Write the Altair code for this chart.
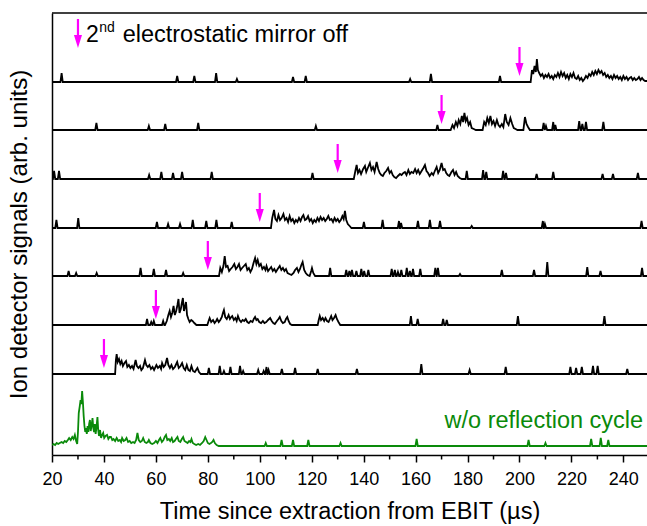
import altair as alt
import pandas as pd

# ---------------- data ----------------
trace_names = ["t1", "t2", "t3", "t4", "t5", "t6", "t7", "g"]
trace_offsets = [373, 325, 276, 227, 179, 130, 81, 9]
trace_colors = ["black"] * 7 + ["#0a8a0a"]

t1_spikes = [(23.7, 9), (68.2, 6), (74.8, 6), (83.2, 9), (91.2, 3), (112.8, 5), (117.7, 6),
             (157.9, 3), (165.9, 8), (192.5, 6)]
t1_burst = [(204.3, 0), (204.8, 12), (205.3, 8), (205.8, 16), (206.3, 10), (206.7, 23), (207.1, 12),
            (207.6, 9), (208.2, 6), (208.8, 8), (209.4, 4), (210.0, 7), (210.6, 5), (211.2, 8),
            (211.8, 4), (212.4, 6), (213.0, 3), (213.6, 7), (214.2, 5), (214.8, 9), (215.4, 5),
            (216.0, 10), (216.6, 6), (217.2, 9), (217.8, 4), (218.4, 7), (219.0, 3), (219.6, 8),
            (220.2, 5), (220.8, 9), (221.4, 4), (222.0, 3), (222.6, 6), (223.2, 2), (223.8, 4),
            (224.4, 1), (225.0, 3), (225.6, 6), (226.2, 4), (226.8, 8), (227.4, 6), (228.0, 10),
            (228.6, 7), (229.2, 11), (229.8, 8), (230.4, 12), (231.0, 9), (231.6, 11), (232.2, 7),
            (232.8, 9), (233.4, 5), (234.0, 7), (234.6, 4), (235.2, 6), (235.8, 3), (236.4, 7),
            (237.0, 4), (237.6, 6), (238.2, 3), (238.8, 5), (239.4, 2), (240.0, 6), (240.6, 3),
            (241.2, 5), (241.8, 2), (242.4, 4), (243.0, 5), (243.6, 2), (244.2, 4), (244.8, 2),
            (245.4, 3), (246.0, 5), (246.6, 2), (247.2, 4), (247.8, 2), (248.4, 1), (249.1, 1)]

t2_spikes = [(37.1, 7), (57.3, 4), (63.6, 6), (76.3, 7), (121.6, 4), (168.4, 5),
             (209.3, 7), (210.2, 4), (213.0, 8), (213.8, 5), (223.0, 9), (224.2, 6),
             (225.6, 8), (232.3, 8)]
t2_burst = [(173.5, 0), (174.2, 5), (174.8, 2), (175.5, 8), (176.1, 4), (176.6, 10), (177.2, 6),
            (177.8, 14), (178.3, 8), (178.8, 17), (179.3, 9), (179.8, 12), (180.4, 5), (181.0, 8),
            (181.6, 2), (182.4, 1), (183.2, 0),
            (185.8, 0), (186.4, 8), (187.0, 5), (187.6, 12), (188.2, 7), (188.8, 14), (189.4, 6),
            (190.0, 9), (190.6, 4), (191.3, 10), (191.9, 5), (192.5, 3), (193.2, 6), (193.8, 3),
            (194.5, 16), (195.1, 8), (195.8, 5), (196.5, 12), (197.2, 6), (197.8, 2), (198.5, 1),
            (199.2, 0), (201.5, 0), (202.1, 13), (202.7, 6), (203.3, 3), (204.0, 0)]

t3_spikes = [(20.8, 8), (22.7, 8), (57.4, 4), (62.1, 7), (66.6, 6), (70.1, 7), (81.5, 7),
             (120.3, 6), (179.7, 8), (186.0, 9), (187.2, 7), (193.7, 8), (194.8, 6),
             (206.6, 5), (213.0, 7), (232.0, 5), (236.0, 5), (245.6, 6)]
t3_burst = [(136.2, 0), (136.8, 8), (137.3, 14), (137.8, 6), (138.4, 9), (139.0, 5), (139.8, 10),
            (140.5, 13), (141.0, 7), (141.6, 11), (142.4, 16), (143.0, 9), (143.6, 12), (144.2, 7),
            (145.0, 17), (145.6, 10), (146.2, 6), (146.8, 4), (147.4, 3), (148.0, 6), (148.7, 8),
            (149.4, 11), (150.0, 6), (150.6, 8), (151.2, 4), (151.8, 2), (152.5, 1), (153.2, 3),
            (154.0, 5), (154.6, 4), (155.3, 6), (155.9, 7), (156.5, 4), (157.2, 9), (157.8, 5),
            (158.4, 7), (159.1, 6), (159.8, 10), (160.4, 6), (161.0, 9), (161.6, 5), (162.3, 8),
            (163.0, 11), (163.6, 14), (164.2, 8), (164.8, 6), (165.4, 3), (166.2, 6), (166.8, 4),
            (167.4, 8), (168.1, 12), (168.7, 6), (169.3, 9), (170.0, 16), (170.6, 9), (171.2, 10),
            (171.8, 6), (172.4, 4), (173.0, 3), (173.8, 7), (174.4, 9), (175.0, 4), (175.6, 7),
            (176.2, 3), (177.0, 1), (177.8, 0)]

t4_spikes = [(21.7, 8), (30.1, 10), (60.4, 6), (64.7, 4), (69.3, 4), (74.2, 8), (79.4, 7),
             (83.3, 8), (89.2, 6), (140.1, 6), (147.3, 8), (153.6, 7), (154.4, 5), (160.9, 7),
             (165.5, 8), (169.4, 7), (181.6, 2), (209.0, 7), (209.8, 4), (247.0, 7)]
t4_burst = [(104.3, 0), (104.8, 10), (105.5, 18), (106.0, 9), (106.6, 7), (107.2, 13), (107.8, 8),
            (108.4, 10), (109.1, 14), (109.7, 8), (110.3, 10), (110.9, 6), (111.5, 12), (112.1, 7),
            (112.7, 9), (113.3, 5), (113.9, 8), (114.5, 6), (115.1, 10), (115.7, 7), (116.3, 11),
            (116.8, 13), (117.4, 8), (118.0, 9), (118.6, 12), (119.2, 7), (119.8, 9), (120.4, 5),
            (121.0, 8), (121.6, 6), (122.2, 10), (122.8, 7), (123.4, 11), (124.0, 8), (124.6, 10),
            (125.2, 7), (125.8, 9), (126.4, 12), (127.0, 8), (127.6, 9), (128.2, 6), (128.8, 10),
            (129.4, 7), (130.0, 9), (130.6, 6), (131.2, 8), (131.8, 12), (132.3, 9), (132.8, 17),
            (133.3, 8), (133.9, 4), (134.6, 2), (135.3, 0)]

t5_spikes = [(26.4, 5), (29.3, 3), (37.2, 3), (54.1, 8), (59.2, 7), (63.9, 6), (70.5, 3),
             (127.1, 8), (133.3, 6), (134.5, 5), (135.5, 6), (137.2, 5), (139.1, 7), (140.2, 5),
             (141.8, 6), (150.8, 7), (152.0, 6), (153.2, 4), (154.5, 6), (156.6, 8), (157.8, 5),
             (159.0, 7), (161.8, 7), (167.6, 8), (168.6, 8), (177.1, 2), (193.2, 6), (205.6, 6),
             (210.7, 14), (226.1, 9), (231.2, 5), (247.2, 8)]
t5_burst = [(84.3, 0), (84.8, 8), (85.4, 4), (86.0, 10), (86.5, 20), (87.0, 9), (87.6, 10),
            (88.2, 5), (88.8, 7), (89.5, 9), (90.2, 12), (90.8, 7), (91.4, 9), (92.0, 12), (92.6, 6),
            (93.2, 8), (93.9, 10), (94.6, 12), (95.2, 6), (95.8, 8), (96.4, 4), (97.0, 7), (97.6, 13),
            (98.2, 18), (98.7, 12), (99.2, 16), (99.8, 10), (100.4, 12), (101.0, 7), (101.6, 9),
            (102.2, 6), (102.6, 10), (103.2, 5), (103.8, 7), (104.4, 9), (105.0, 5), (105.6, 7),
            (106.2, 4), (106.9, 7), (107.7, 10), (108.3, 6), (108.9, 8), (109.5, 5), (110.1, 7),
            (110.7, 3), (111.4, 2), (112.2, 1), (113.0, 3), (113.6, 6), (114.3, 8), (114.9, 4),
            (115.5, 7), (116.0, 11), (116.5, 14), (117.1, 6), (117.7, 3), (118.4, 1), (119.2, 0),
            (119.8, 5), (120.1, 8), (120.6, 3), (121.3, 0)]

t6_spikes = [(56.6, 6), (58.2, 3), (59.2, 4), (62.8, 4), (158.2, 9), (160.8, 6), (170.6, 6),
             (172.0, 5), (199.4, 9), (232.7, 9)]
t6_burst = [(63.5, 0), (64.2, 4), (64.8, 10), (65.3, 14), (65.8, 8), (66.3, 12), (66.8, 19),
            (67.3, 10), (67.8, 14), (68.3, 20), (68.7, 26), (69.1, 12), (69.6, 16), (70.0, 22),
            (70.4, 27), (70.8, 14), (71.2, 18), (71.6, 23), (72.0, 10), (72.5, 6), (73.0, 3),
            (73.6, 5), (74.1, 4), (74.8, 2), (75.6, 0),
            (79.8, 0), (80.3, 4), (80.7, 7), (81.3, 3), (82.0, 5), (82.6, 2), (83.2, 4), (83.6, 6),
            (84.2, 3), (84.8, 5), (85.4, 8), (85.8, 12), (86.2, 15), (86.7, 8), (87.3, 6),
            (88.0, 10), (88.5, 6), (89.0, 8), (89.4, 9), (90.0, 5), (90.6, 7), (91.1, 4), (91.6, 9),
            (92.2, 5), (92.8, 3), (93.4, 5), (94.0, 4), (94.6, 6), (95.2, 3), (95.8, 2), (96.5, 4),
            (97.2, 3), (97.7, 6), (98.2, 8), (98.7, 5), (99.2, 6), (99.8, 3), (100.5, 2),
            (101.2, 4), (101.8, 2), (102.5, 3), (103.2, 5), (104.0, 7), (104.6, 4), (105.2, 2),
            (105.8, 1), (106.6, 4), (107.2, 6), (107.7, 8), (108.3, 4), (108.9, 2), (109.6, 3),
            (110.1, 6), (110.6, 8), (111.1, 4), (111.7, 1), (112.4, 0),
            (122.3, 0), (122.7, 5), (123.1, 9), (123.6, 5), (124.2, 7), (124.8, 4), (125.3, 7),
            (125.9, 4), (126.5, 3), (127.0, 6), (127.5, 9), (128.0, 5), (128.6, 7), (129.2, 10),
            (129.7, 6), (130.3, 3), (131.0, 0)]

t7_spikes = [(80.4, 6), (84.6, 8), (86.2, 3), (88.7, 7), (92.4, 8), (93.6, 3), (99.4, 4),
             (101.5, 3), (102.6, 7), (103.4, 4), (108.5, 5), (113.6, 6), (122.3, 5), (137.4, 5),
             (162.2, 10), (180.8, 4), (194.7, 7), (219.6, 7), (221.8, 6), (224.0, 7),
             (228.3, 8), (230.1, 8), (241.5, 5)]
t7_burst = [(44.3, 0), (44.6, 14), (44.9, 20), (45.3, 12), (45.8, 15), (46.3, 10), (46.8, 13),
            (47.3, 8), (47.9, 11), (48.5, 13), (49.0, 7), (49.6, 9), (50.2, 6), (50.8, 8),
            (51.4, 5), (52.2, 14), (52.7, 8), (53.3, 6), (53.9, 8), (54.4, 4), (55.0, 6),
            (55.8, 14), (56.3, 9), (56.9, 7), (57.5, 9), (58.1, 5), (58.7, 7), (59.3, 4),
            (60.2, 9), (60.8, 6), (61.5, 8), (62.0, 5), (62.4, 11), (63.0, 7), (63.6, 9),
            (64.3, 16), (64.8, 9), (65.4, 6), (66.0, 9), (66.6, 5), (67.3, 7), (68.2, 12),
            (68.8, 6), (69.5, 8), (70.1, 11), (70.7, 6), (71.3, 4), (71.9, 9), (72.5, 4),
            (73.1, 3), (73.7, 8), (74.3, 3), (75.0, 2), (76.0, 6), (76.6, 2), (77.3, 0)]

g_spikes = [(102.3, 3), (108.4, 6), (112.8, 6), (118.7, 6), (131.1, 3), (160.4, 7), (203.5, 6),
            (210.0, 3), (227.6, 7), (231.3, 8), (234.2, 6)]
g_burst = [(20.0, 1), (20.6, 2), (21.2, 1), (21.8, 3), (22.4, 2), (23.0, 3), (23.7, 4), (24.3, 3),
           (24.9, 5), (25.5, 4), (26.1, 6), (26.6, 8), (27.2, 6), (27.8, 9), (28.3, 7), (28.8, 11),
           (29.3, 5), (29.7, 2), (30.0, 14), (30.3, 33), (30.7, 40), (31.0, 46), (31.3, 42),
           (31.6, 55), (31.9, 44), (32.2, 30), (32.5, 20), (32.8, 14), (33.1, 18), (33.4, 12),
           (33.7, 20), (34.0, 14), (34.3, 22), (34.6, 26), (34.9, 15), (35.2, 20), (35.6, 28),
           (35.9, 18), (36.2, 14), (36.5, 22), (36.8, 12), (37.1, 18), (37.5, 29), (37.8, 16),
           (38.1, 10), (38.5, 16), (38.9, 8), (39.3, 11), (39.7, 13), (40.1, 8), (40.6, 10),
           (41.2, 11), (41.7, 7), (42.2, 9), (42.7, 9), (43.2, 6), (43.7, 7), (44.3, 5), (44.9, 8),
           (45.5, 5), (46.1, 6), (46.6, 4), (47.0, 8), (47.6, 5), (48.2, 6), (48.7, 8), (49.3, 4),
           (49.9, 5), (50.5, 3), (51.2, 4), (51.8, 3), (52.4, 6), (52.9, 13), (53.4, 6), (54.0, 4),
           (54.6, 5), (55.1, 8), (55.7, 4), (56.3, 3), (56.9, 4), (57.3, 6), (57.9, 3), (58.6, 2),
           (59.3, 3), (60.0, 5), (60.6, 3), (61.2, 6), (61.7, 8), (62.3, 4), (62.9, 6), (63.4, 9),
           (63.9, 11), (64.4, 6), (65.0, 7), (65.5, 5), (66.1, 8), (66.6, 4), (67.2, 5), (67.7, 7),
           (68.3, 9), (68.8, 5), (69.4, 4), (70.0, 7), (70.5, 9), (71.0, 5), (71.6, 4), (72.2, 3),
           (72.8, 5), (73.3, 4), (73.7, 7), (74.2, 3), (74.8, 2), (75.5, 1), (76.3, 2), (77.0, 1),
           (77.8, 3), (78.4, 5), (79.0, 9), (79.5, 6), (80.0, 3), (80.6, 2), (81.2, 3), (81.7, 4),
           (82.2, 6), (82.7, 3), (83.4, 1), (84.2, 0)]

# mirror-off arrows: first one belongs to the in-plot legend
arrow_x = [30, 200, 170, 130, 100, 80, 60, 40]
arrow_tip = [407, 379, 331, 282, 233, 185, 136, 87]

tick_values = [20, 40, 60, 80, 100, 120, 140, 160, 180, 200, 220, 240]
minor_ticks = [30, 50, 70, 90, 110, 130, 150, 170, 190, 210, 230]

X_MIN, X_MAX = 20, 249.1
FONT = "Liberation Sans"

# ---------------- build tables ----------------
all_spikes = [t1_spikes, t2_spikes, t3_spikes, t4_spikes, t5_spikes, t6_spikes, t7_spikes, g_spikes]
all_bursts = [t1_burst, t2_burst, t3_burst, t4_burst, t5_burst, t6_burst, t7_burst, g_burst]

rows = []
for name, off, spikes, burst in zip(trace_names, trace_offsets, all_spikes, all_bursts):
    pts = list(burst)
    for x, h in spikes:
        pts += [(x - 0.45, 0), (x, h), (x + 0.45, 0)]
    xs = [p[0] for p in pts]
    if min(xs) > X_MIN:
        pts.append((X_MIN, 0))
    if max(xs) < X_MAX:
        pts.append((X_MAX, 0))
    pts.sort()
    for i, (x, h) in enumerate(pts):
        rows.append({"trace": name, "t": x, "y": off + h, "o": i})
df = pd.DataFrame(rows)

arr = pd.DataFrame({"x": arrow_x, "tip": arrow_tip})
arr["top"] = arr["tip"] + 29
arr["shaft_end"] = arr["tip"] + 10
arr["head"] = arr["tip"] + 6.5

xscale = alt.Scale(domain=[X_MIN, X_MAX], nice=False, zero=False)
yscale = alt.Scale(domain=[0, 442], nice=False, zero=False)

lines = alt.Chart(df).mark_line(strokeWidth=1.8, clip=True).encode(
    x=alt.X("t:Q", scale=xscale,
            axis=alt.Axis(values=tick_values, title="Time since extraction from EBIT (µs)",
                          grid=False, tickSize=7, tickWidth=1.5, tickColor="black",
                          domainColor="black", domainWidth=1.5,
                          labelFont=FONT, labelFontSize=18, labelColor="black", labelPadding=8,
                          labelFlush=False,
                          titleFont=FONT, titleFontSize=23.5, titleFontWeight="normal",
                          titleColor="black", titlePadding=11)),
    y=alt.Y("y:Q", scale=yscale,
            axis=alt.Axis(title="Ion detector signals (arb. units)", labels=False, ticks=False,
                          grid=False, domainColor="black", domainWidth=1.5,
                          titleFont=FONT, titleFontSize=24, titleFontWeight="normal",
                          titleColor="black", titlePadding=21)),
    color=alt.Color("trace:N", scale=alt.Scale(domain=trace_names, range=trace_colors), legend=None),
    detail="trace:N",
    order="o:Q",
)

minor = alt.Chart(pd.DataFrame({"m": minor_ticks})).mark_rule(color="black", strokeWidth=1.5).encode(
    x=alt.X("m:Q", scale=xscale),
    y=alt.value(442), y2=alt.value(446.5),
)

top_line = alt.Chart(pd.DataFrame({"a": [0]})).mark_rule(color="black", strokeWidth=1.5).encode(
    x=alt.value(0), x2=alt.value(600), y=alt.value(0)
)

shafts = alt.Chart(arr).mark_rule(color="#FF00FF", strokeWidth=2.2).encode(
    x=alt.X("x:Q", scale=xscale), y=alt.Y("top:Q", scale=yscale), y2="shaft_end:Q"
)
heads = alt.Chart(arr).mark_point(filled=True, color="#FF00FF", opacity=1, size=169,
                                  shape="M-0.62,-1L0.62,-1L0,1Z", strokeWidth=0).encode(
    x=alt.X("x:Q", scale=xscale), y=alt.Y("head:Q", scale=yscale)
)

txt_two = alt.Chart(pd.DataFrame({"s": ["2"]})).mark_text(
    font=FONT, fontSize=23, align="left", baseline="alphabetic", color="black").encode(
    text="s:N", x=alt.datum(33.1), y=alt.datum(413.3))
txt_nd = alt.Chart(pd.DataFrame({"s": ["nd"]})).mark_text(
    font=FONT, fontSize=14, align="left", baseline="alphabetic", color="black").encode(
    text="s:N", x=alt.datum(38.2), y=alt.datum(423.5))
txt_rest = alt.Chart(pd.DataFrame({"s": ["electrostatic mirror off"]})).mark_text(
    font=FONT, fontSize=23.5, align="left", baseline="alphabetic", color="black").encode(
    text="s:N", x=alt.datum(47.2), y=alt.datum(413.3))
txt_green = alt.Chart(pd.DataFrame({"s": ["w/o reflection cycle"]})).mark_text(
    font=FONT, fontSize=23.5, align="right", baseline="alphabetic", color="#0a8a0a").encode(
    text="s:N", x=alt.datum(247.6), y=alt.datum(27))

chart = alt.layer(lines, minor, top_line, shafts, heads, txt_two, txt_nd, txt_rest, txt_green).properties(
    width=595, height=442,
    autosize=alt.AutoSizeParams(type="none"),
    padding={"left": 52, "top": 13, "right": 0, "bottom": 71},
    background="white",
).configure_view(stroke=None)

chart.save("out.html", embed_options={"renderer": "svg", "actions": False})
